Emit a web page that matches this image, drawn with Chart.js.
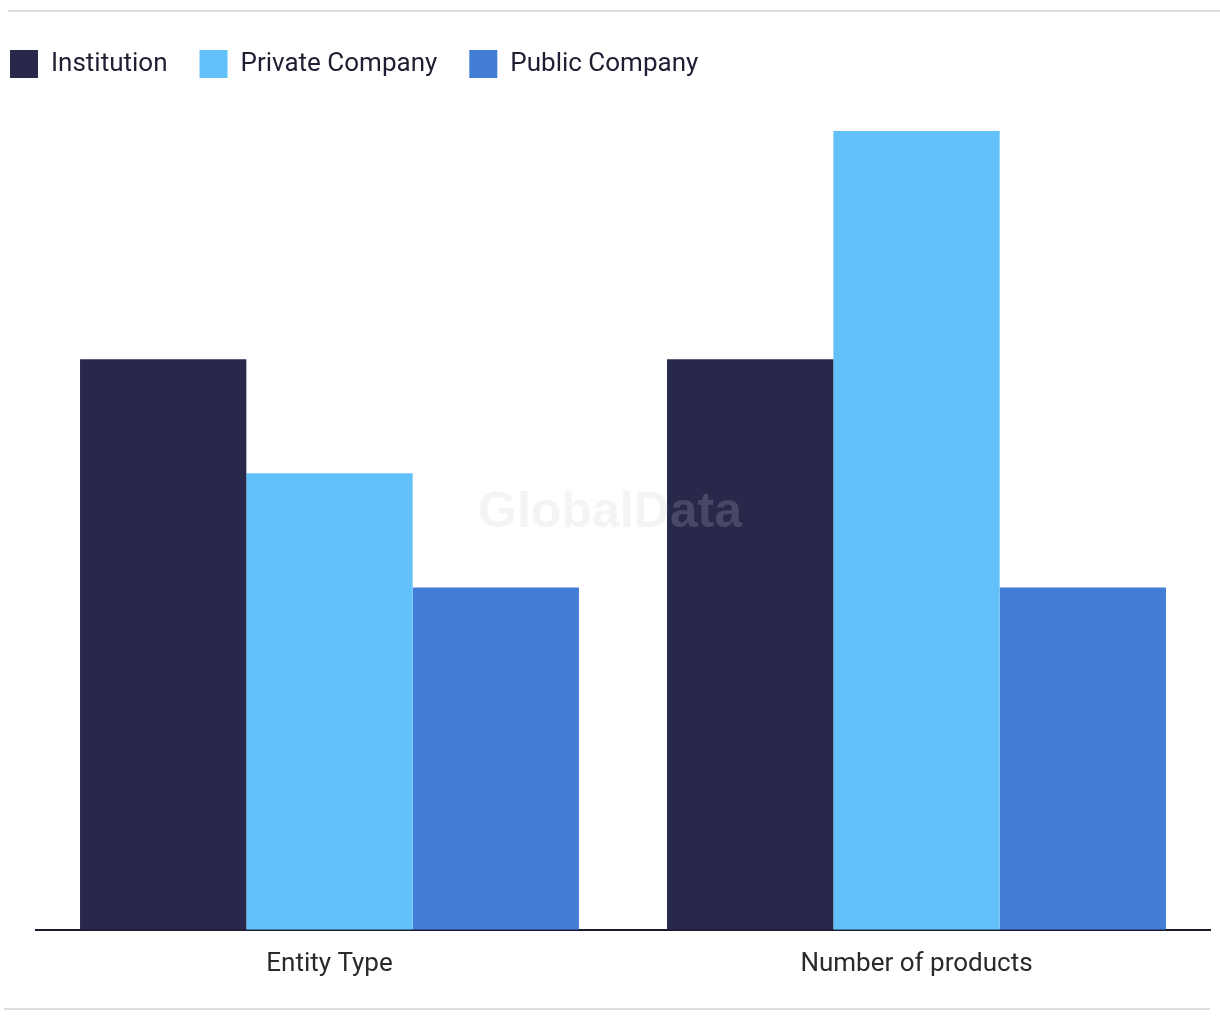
<!DOCTYPE html>
<html>
<head>
<meta charset="utf-8">
<script src="https://cdn.jsdelivr.net/npm/chart.js@4"></script>
<style>
html,body{margin:0;padding:0;background:#fff;}
#wrap{width:1220px;height:1020px;position:relative;}
</style>
</head>
<body>
<div id="wrap"><canvas id="c" width="1220" height="1020"></canvas></div>
<script>
const categories = ["Entity Type", "Number of products"];
const seriesNames = ["Institution", "Private Company", "Public Company"];
const institution = [5, 5];
const privateCompany = [4, 7];
const publicCompany = [3, 3];
const seriesColors = ["#27284a", "#62c1f8", "#427ed6"];

const FONT = "Roboto, 'Liberation Sans', sans-serif";

const framePlugin = {
  id: 'frame',
  beforeDraw(chart) {
    const ctx = chart.ctx;
    ctx.save();
    ctx.fillStyle = '#fff';
    ctx.fillRect(0, 0, chart.width, chart.height);
    ctx.strokeStyle = '#dcdcdc';
    ctx.lineWidth = 2;
    ctx.beginPath();
    ctx.moveTo(8, 11); ctx.lineTo(1220, 11);
    ctx.moveTo(4, 1009); ctx.lineTo(1210, 1009);
    ctx.stroke();
    ctx.restore();
  },
  afterDatasetsDraw(chart) {
    const ctx = chart.ctx;
    const a = chart.chartArea;
    ctx.save();
    ctx.font = "bold 50px 'Liberation Sans', Arial, sans-serif";
    ctx.fillStyle = 'rgba(200,200,210,0.2)';
    ctx.textAlign = 'center';
    ctx.textBaseline = 'middle';
    ctx.fillText('GlobalData', (a.left + a.right) / 2 - 13, 513);
    ctx.restore();
  }
};

const legendHeightPlugin = {
  id: 'legendHeight',
  beforeInit(chart) {
    const origFit = chart.legend.fit;
    chart.legend.fit = function () {
      origFit.bind(chart.legend)();
      this.height = 113;
    };
  }
};

const chart = new Chart(document.getElementById('c'), {
  type: 'bar',
  data: {
    labels: categories,
    datasets: [
      { label: seriesNames[0], data: institution, backgroundColor: seriesColors[0] },
      { label: seriesNames[1], data: privateCompany, backgroundColor: seriesColors[1] },
      { label: seriesNames[2], data: publicCompany, backgroundColor: seriesColors[2] }
    ]
  },
  options: {
    responsive: false,
    animation: false,
    devicePixelRatio: 1,
    layout: { padding: { left: -22, right: 10, top: 18, bottom: 21 } },
    datasets: { bar: { categoryPercentage: 0.85, barPercentage: 1.0, borderWidth: 0 } },
    plugins: {
      legend: {
        display: true,
        position: 'top',
        align: 'start',
        labels: {
          boxWidth: 28, boxHeight: 28, padding: 32,
          color: '#1e1f33',
          font: { family: FONT, size: 26 }
        }
      },
      tooltip: { enabled: false }
    },
    scales: {
      x: {
        grid: { display: false, drawTicks: false },
        border: { display: true, color: '#1a1a2e', width: 2 },
        ticks: { color: '#2a2a2a', padding: 19, font: { family: FONT, size: 26 } }
      },
      y: {
        display: true,
        min: 0, max: 7,
        grid: { display: false, drawTicks: false },
        border: { display: false },
        ticks: { display: false },
        afterFit(scale) { scale.width = 58; }
      }
    }
  },
  plugins: [framePlugin, legendHeightPlugin]
});
</script>
</body>
</html>
